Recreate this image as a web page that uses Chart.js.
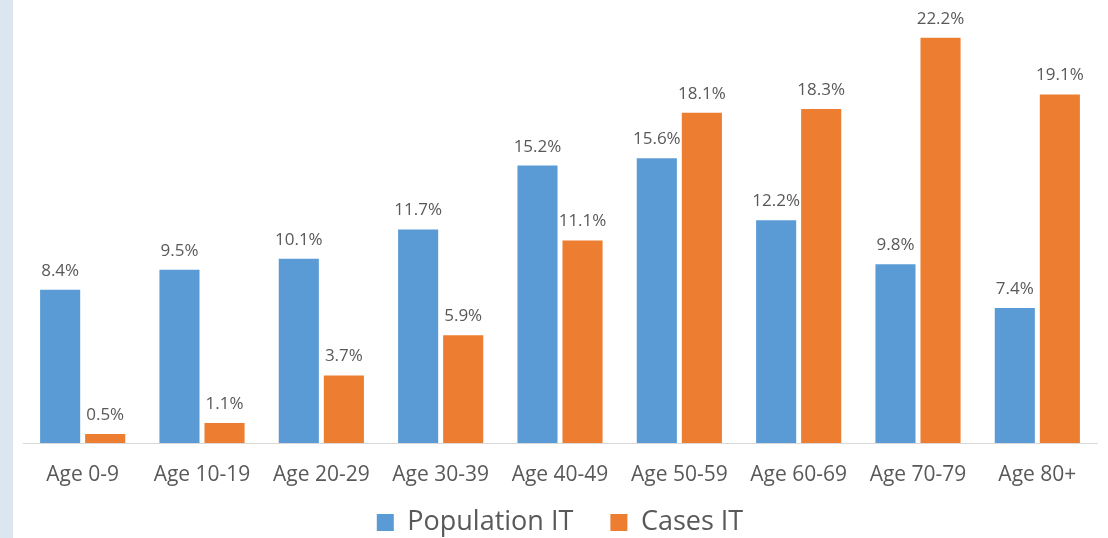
<!DOCTYPE html>
<html>
<head>
<meta charset="utf-8">
<script src="https://cdn.jsdelivr.net/npm/chart.js@4"></script>
<style>
  html, body { margin: 0; padding: 0; background: #fff; }
  .wrap { position: relative; width: 1108px; height: 538px; overflow: hidden; }
  .strip { position: absolute; left: 0; top: 0; width: 13px; height: 538px; background: #dce6f1; }
  canvas { position: absolute; left: 0; top: 0; }
</style>
</head>
<body>
<div class="wrap">
  <div class="strip"></div>
  <canvas id="ages" width="1108" height="538"></canvas>
</div>
<script>
// age bands and shares (%)
const ageBands = ['Age 0-9', 'Age 10-19', 'Age 20-29', 'Age 30-39', 'Age 40-49', 'Age 50-59', 'Age 60-69', 'Age 70-79', 'Age 80+'];
const populationIT = [8.4, 9.5, 10.1, 11.7, 15.2, 15.6, 12.2, 9.8, 7.4];
const casesIT = [0.5, 1.1, 3.7, 5.9, 11.1, 18.1, 18.3, 22.2, 19.1];

const COLORS = { blue: '#5b9bd5', orange: '#ed7d31', text: '#595959', axis: '#d9d9d9' };
const FONT = '"Open Sans", "DejaVu Sans", sans-serif';

// value labels above each bar
const barLabels = {
  id: 'barLabels',
  afterDatasetsDraw(chart) {
    const ctx = chart.ctx;
    ctx.save();
    ctx.font = `17px ${FONT}`;
    ctx.fillStyle = COLORS.text;
    ctx.textAlign = 'center';
    ctx.textBaseline = 'alphabetic';
    chart.data.datasets.forEach((ds, i) => {
      chart.getDatasetMeta(i).data.forEach((bar, j) => {
        ctx.fillText(ds.data[j].toFixed(1) + '%', bar.x, bar.y - 14);
      });
    });
    ctx.restore();
  }
};

const defaultLabels = Chart.defaults.plugins.legend.labels.generateLabels;

new Chart(document.getElementById('ages'), {
  type: 'bar',
  data: {
    labels: ageBands,
    datasets: [
      { label: 'Population IT', data: populationIT, backgroundColor: COLORS.blue },
      { label: 'Cases IT', data: casesIT, backgroundColor: COLORS.orange }
    ]
  },
  options: {
    responsive: false,
    animation: false,
    devicePixelRatio: 1,
    categoryPercentage: 0.755,
    barPercentage: 0.89,
    layout: { padding: { left: 23, right: 11, top: 5, bottom: -8 } },
    plugins: {
      tooltip: { enabled: false },
      legend: {
        position: 'bottom',
        labels: {
          font: { family: FONT, size: 27 },
          color: COLORS.text,
          boxWidth: 17,
          boxHeight: 17,
          padding: 16,
          // a little extra room between the two items, like the original
          generateLabels(chart) {
            return defaultLabels(chart).map((item, i, all) => {
              if (i < all.length - 1) item.text += '\u00a0\u00a0\u00a0';
              return item;
            });
          }
        }
      }
    },
    scales: {
      x: {
        grid: { display: false, drawTicks: false },
        border: { display: true, color: COLORS.axis, width: 1 },
        ticks: { color: COLORS.text, font: { family: FONT, size: 21 }, padding: 19, autoSkip: false, maxRotation: 0 },
        afterFit(scale) { scale.height = 50; }
      },
      y: { display: false, min: 0, max: 24 }
    }
  },
  plugins: [barLabels]
});
</script>
</body>
</html>
